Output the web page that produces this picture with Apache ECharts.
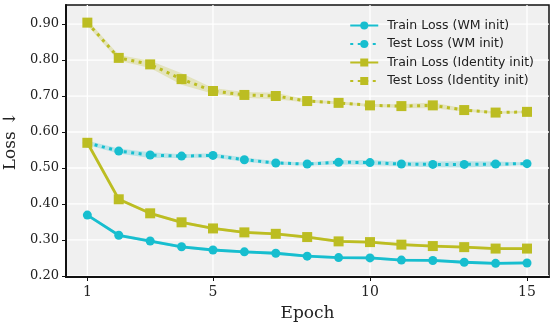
<!DOCTYPE html>
<html><head><meta charset="utf-8">
<script src="https://cdn.jsdelivr.net/npm/echarts@6/dist/echarts.min.js"></script>
<style>html,body{margin:0;padding:0;background:#fff}#c{width:555px;height:329px}</style>
</head><body><div id="c"></div>
<script>
const epochs = [1,2,3,4,5,6,7,8,9,10,11,12,13,14,15];
const trainWM = [0.369,0.313,0.297,0.281,0.272,0.267,0.263,0.255,0.251,0.250,0.244,0.243,0.238,0.235,0.236];
const trainWMStd = [0.004,0.004,0.004,0.004,0.004,0.004,0.004,0.004,0.004,0.004,0.004,0.004,0.004,0.004,0.004];
const testWM = [0.570,0.547,0.536,0.533,0.535,0.523,0.514,0.511,0.516,0.515,0.511,0.510,0.510,0.511,0.512];
const testWMStd = [0.006,0.007,0.008,0.005,0.006,0.006,0.005,0.004,0.006,0.007,0.006,0.008,0.009,0.007,0.003];
const trainId = [0.570,0.413,0.374,0.349,0.332,0.321,0.317,0.308,0.296,0.294,0.287,0.283,0.280,0.276,0.276];
const trainIdStd = [0.004,0.004,0.004,0.004,0.004,0.004,0.004,0.004,0.004,0.004,0.004,0.004,0.004,0.004,0.004];
const testId = [0.904,0.806,0.788,0.747,0.714,0.703,0.700,0.686,0.681,0.674,0.672,0.674,0.661,0.654,0.656];
const testIdStd = [0.008,0.008,0.010,0.016,0.008,0.008,0.009,0.004,0.004,0.004,0.005,0.008,0.004,0.003,0.003];
const xTicks = [1,5,10,15];
const yTicks = [0.2,0.3,0.4,0.5,0.6,0.7,0.8,0.9];
const names = ['Train Loss (WM init)','Test Loss (WM init)','Train Loss (Identity init)','Test Loss (Identity init)'];

const CY = '#17becf', OL = '#bcbd22';
const X_MIN = 0.32, X_MAX = 15.7, Y_MIN = 0.197, Y_MAX = 0.953;
const chart = echarts.init(document.getElementById('c'), null, {renderer:'canvas'});

function band(mean, std, color){
  return {
    type:'custom', silent:true, z:1,
    data: epochs.map((e,i)=>[e, mean[i]]),
    renderItem: function(params, api){
      if (params.dataIndex !== 0) return null;
      const up = epochs.map((e,i)=>api.coord([e, mean[i]+std[i]]));
      const lo = epochs.map((e,i)=>api.coord([e, mean[i]-std[i]])).reverse();
      return {type:'polygon', shape:{points: up.concat(lo)}, style:{fill: color, opacity:0.25}};
    }
  };
}
function line(name, vals, color, dotted, sym){
  return {
    name, type:'line', z:3,
    data: epochs.map((e,i)=>[e, vals[i]]),
    symbol: sym, symbolSize: sym==='rect'?10:9,
    itemStyle:{color},
    lineStyle:{color, width: dotted?3:2.8, type: dotted?[3,4.5]:'solid', cap:'butt'},
    emphasis:{disabled:true}, animation:false
  };
}
const gridLines = {
  type:'custom', silent:true, z:0, animation:false,
  data: xTicks.map(v=>[v, 'x']).concat(yTicks.map(v=>[v, 'y'])),
  dimensions:['v','k'],
  encode:{x:-1, y:-1},
  renderItem: function(params, api){
    const i = params.dataIndex;
    let p1, p2;
    if (i < xTicks.length){
      const v = xTicks[i];
      p1 = api.coord([v, Y_MIN]); p2 = api.coord([v, Y_MAX]);
    } else {
      const v = yTicks[i - xTicks.length];
      p1 = api.coord([X_MIN, v]); p2 = api.coord([X_MAX, v]);
    }
    return {type:'line', shape:{x1:p1[0], y1:p1[1], x2:p2[0], y2:p2[1]},
      style:{stroke:'#fff', lineWidth:1.3}};
  }
};
const serif = 'DejaVu Serif';
chart.setOption({
  animation:false,
  backgroundColor:'#fff',
  grid:{left:66, right:6, top:5, bottom:52, backgroundColor:'#f0f0f0', show:true,
    borderWidth:1.5, borderColor:'#111', outerBoundsMode:'none', containLabel:false},
  legend:{
    data: names, orient:'vertical', right:16, top:14, itemGap:5.5,
    itemWidth:28, itemHeight:10,
    textStyle:{fontFamily:'DejaVu Sans', fontSize:12.5, color:'#222', padding:[0,0,0,4]}
  },
  xAxis:{
    type:'value', min:X_MIN, max:X_MAX,
    name:'Epoch', nameLocation:'middle', nameGap:28,
    nameTextStyle:{fontFamily:serif, fontSize:17, color:'#222'},
    axisLine:{show:true, onZero:false, lineStyle:{color:'#111', width:2}},
    axisTick:{show:true, customValues:xTicks, length:4, lineStyle:{color:'#111'}},
    axisLabel:{customValues:xTicks, fontFamily:serif, fontSize:14, color:'#222', margin:8},
    splitLine:{show:false}
  },
  yAxis:{
    type:'value', min:Y_MIN, max:Y_MAX,
    name:'Loss ↓', nameLocation:'middle', nameGap:41,
    nameTextStyle:{fontFamily:serif, fontSize:17, color:'#222'},
    axisLine:{show:true, onZero:false, lineStyle:{color:'#111', width:2}},
    axisTick:{show:true, customValues:yTicks, length:4, lineStyle:{color:'#111'}},
    axisLabel:{customValues:yTicks, fontFamily:serif, fontSize:13, color:'#222', margin:7,
      formatter: v=>v.toFixed(2)},
    splitLine:{show:false}
  },
  series:[
    gridLines,
    band(trainWM, trainWMStd, CY),
    band(testWM, testWMStd, CY),
    band(trainId, trainIdStd, OL),
    band(testId, testIdStd, OL),
    line(names[0], trainWM, CY, false, 'circle'),
    line(names[1], testWM, CY, true, 'circle'),
    line(names[2], trainId, OL, false, 'rect'),
    line(names[3], testId, OL, true, 'rect')
  ]
});
</script></body></html>
